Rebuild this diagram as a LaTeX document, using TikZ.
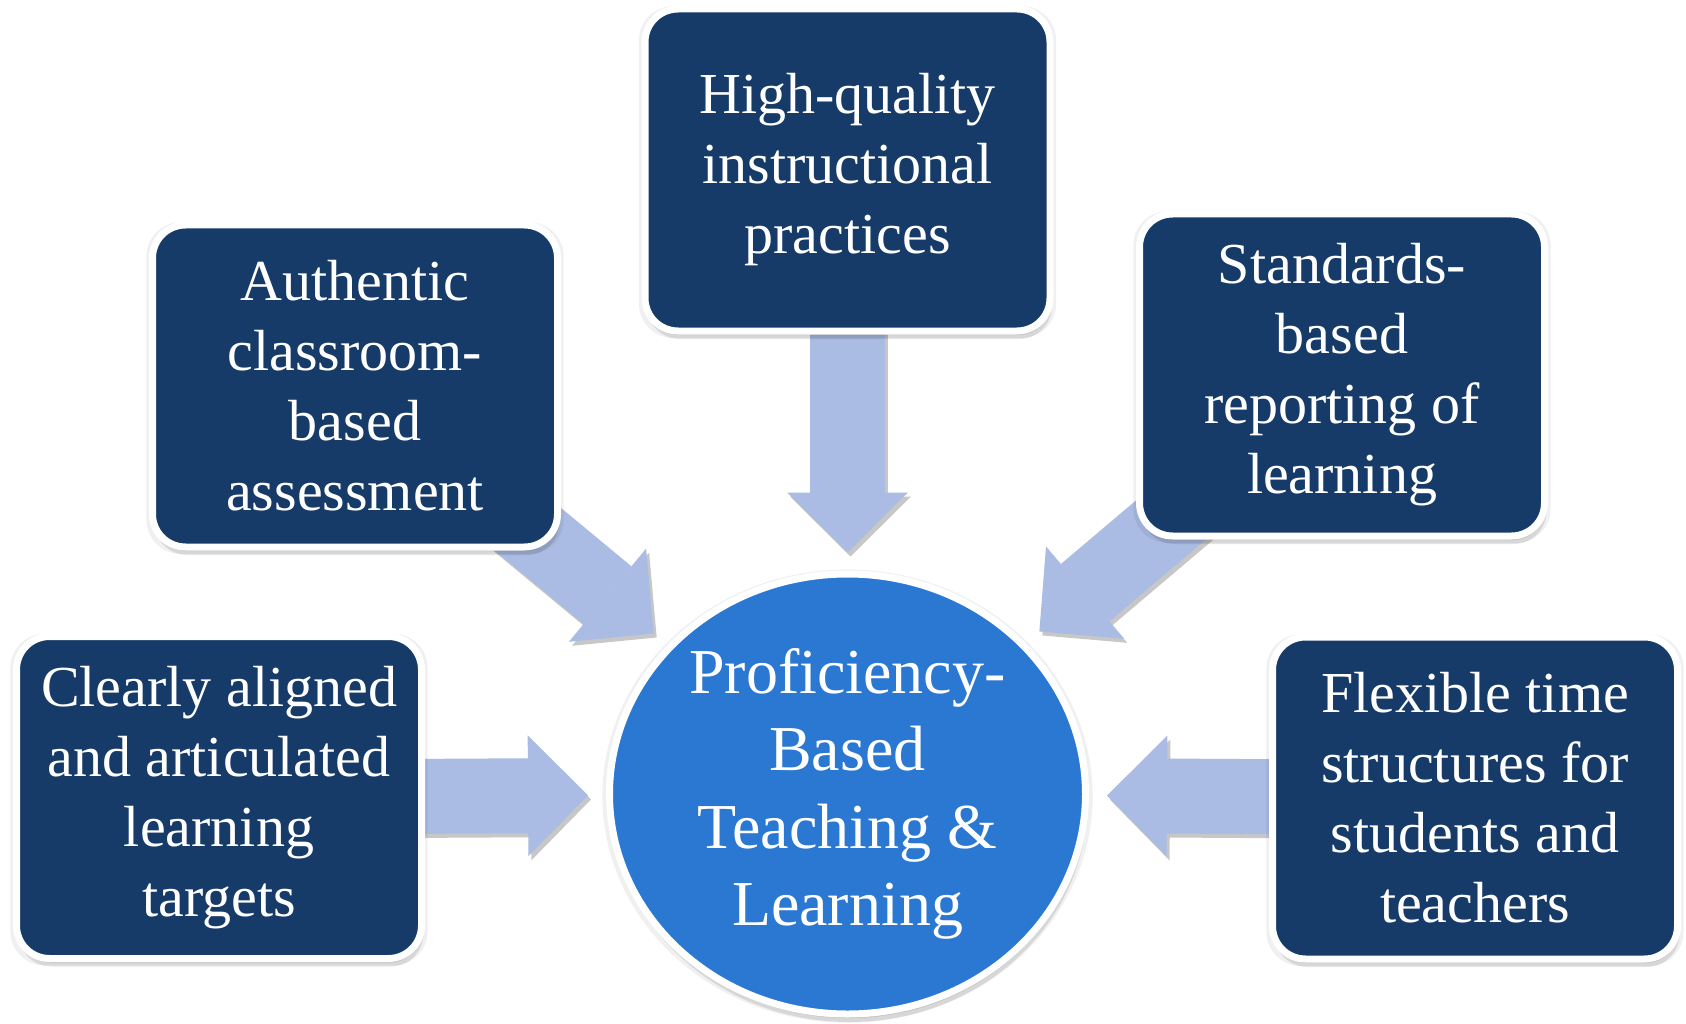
\documentclass[tikz,border=0pt]{standalone}
\usepackage{fontspec}
\setmainfont{Liberation Serif}
\usetikzlibrary{shapes.geometric,arrows.meta,shadows,backgrounds}

\definecolor{boxnavy}{RGB}{23,59,104}
\definecolor{hubblue}{RGB}{42,120,210}
\definecolor{arrowlilac}{RGB}{170,188,227}

\tikzset{
  softshadow/.style={general shadow={fill=black,opacity=.06,shadow scale=1.03,shadow yshift=-2pt},
                     general shadow={fill=black,opacity=.13,shadow xshift=1pt,shadow yshift=-4pt},
                     general shadow={fill=black,opacity=.10,shadow xshift=2pt,shadow yshift=-8pt}},
  pbbox/.style={rectangle,rounded corners=33pt,fill=boxnavy,draw=white,line width=7pt,
                minimum width=405pt,minimum height=322pt,inner sep=0pt,
                text=white,align=center,font=\fontsize{58}{70}\selectfont,softshadow},
  hub/.style={ellipse,fill=hubblue,draw=white,line width=7pt,
              minimum width=476pt,minimum height=440pt,inner sep=0pt,
              text=white,align=center,font=\fontsize{64}{77.5}\selectfont,softshadow},
  pbarrow/.style={draw=arrowlilac,line width=75pt,shorten >=18pt,
                  -{Triangle[length=60pt 0 0,width=121pt 0 0,line width=0pt]}},
  pbarrowshade/.style={pbarrow,draw=black,opacity=.22,transform canvas={shift={(3pt,-4pt)}}}
}

\begin{document}
\begin{tikzpicture}[x=1pt,y=-1pt]
 \useasboundingbox (0,0) rectangle (1686,1024);
 % centre and the five feeding practices
 \node[hub] (hub) at (847.5,794) {Proficiency-\\Based\\Teaching \&\\Learning};
 \node[pbbox] (clear) at (219,797.5) {Clearly aligned\\and articulated\\learning\\targets};
 \node[pbbox] (auth) at (355,386) {Authentic\\classroom-\\based\\assessment};
 \node[pbbox] (high) at (847.5,170) {High-quality\\instructional\\practices};
 \node[pbbox] (std) at (1342,375) {Standards-\\based\\reporting of\\learning};
 \node[pbbox] (flex) at (1475,798) {Flexible time\\structures for\\students and\\teachers};
 % block arrows go behind the boxes
 \begin{scope}[on background layer]
  \fill[white] (0,0) rectangle (1686,1024);
  \foreach \b in {clear,auth,high,std,flex}
  {\draw[pbarrowshade] (\b.center) -- (hub);
   \draw[pbarrow] (\b.center) -- (hub);}
 \end{scope}
\end{tikzpicture}
\end{document}
